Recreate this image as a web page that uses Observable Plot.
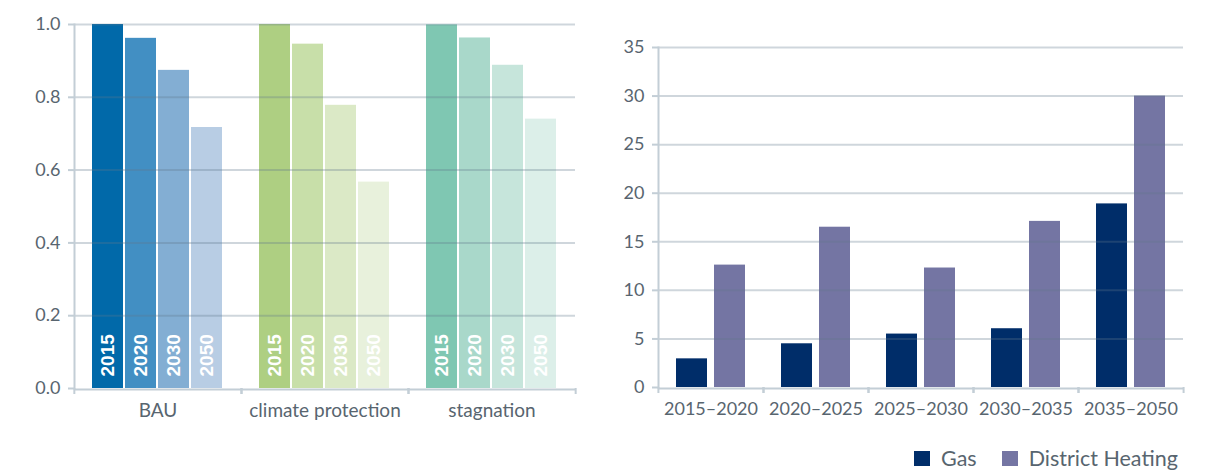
<!DOCTYPE html>
<html><head><meta charset="utf-8">
<script src="https://cdn.jsdelivr.net/npm/d3@7"></script>
<script src="https://cdn.jsdelivr.net/npm/@observablehq/plot@0.6"></script>
<style>
body{margin:0;background:#fff;font-family:Lato,sans-serif;}
#wrap{position:relative;width:1212px;height:471px;overflow:hidden;}
#left{position:absolute;left:0;top:0;}
#right{position:absolute;left:600px;top:0;}
#legend{position:absolute;top:446px;left:914px;display:flex;align-items:center;font-size:21.5px;line-height:24px;color:#58656f;white-space:nowrap;}
.sw{display:inline-block;width:16px;height:15px;margin-right:11px;}
.item{display:flex;align-items:center;}
</style></head><body>
<div id="wrap"><div id="left"></div><div id="right"></div><div id="legend"></div></div>
<script>
// ---------- data: left chart ----------
const scenarios = ["BAU", "climate protection", "stagnation"];
const years = ["2015", "2020", "2030", "2050"];
const bauValues = [1.0, 0.962, 0.874, 0.717];
const climateValues = [1.0, 0.946, 0.778, 0.567];
const stagnationValues = [0.999, 0.963, 0.888, 0.740];
const leftTicks = [0, 0.2, 0.4, 0.6, 0.8, 1.0];

// ---------- data: right chart ----------
const periods = ["2015–2020", "2020–2025", "2025–2030", "2030–2035", "2035–2050"];
const carriers = ["Gas", "District Heating"];
const gasValues = [2.95, 4.5, 5.5, 6.05, 18.9];
const heatingValues = [12.6, 16.5, 12.3, 17.1, 30.0];
const rightTicks = [0, 5, 10, 15, 20, 25, 30, 35];

// ---------- palettes ----------
const bauColors = ["#0169a9", "#428fc3", "#83aed3", "#b8cde4"];
const climateColors = ["#aecf82", "#c8dfa9", "#dbe9c6", "#e8f1dc"];
const stagnationColors = ["#7fc7b2", "#a9d8ca", "#c6e5db", "#dcefe9"];
const carrierColors = ["#002d69", "#7475a3"];

const textColor = "#58656f";
const axisColor = "#c3ced6";
const gridColor = "#5f788c";

// ---------- left chart ----------
const seriesByScenario = [bauValues, climateValues, stagnationValues];
const paletteByScenario = [bauColors, climateColors, stagnationColors];
const leftRows = [];
const colorKeys = [], colorRange = [];
scenarios.forEach((s, i) => years.forEach((y, j) => {
  leftRows.push({scenario: s, year: y, value: seriesByScenario[i][j], key: s + " " + y});
  colorKeys.push(s + " " + y);
  colorRange.push(paletteByScenario[i][j]);
}));

const LW = 600, LML = 73, LMR = 25;
const lfw = (LW - LML - LMR) / scenarios.length;
const left = Plot.plot({
  width: LW, height: 430,
  marginLeft: LML, marginRight: LMR, marginTop: 24, marginBottom: 42,
  style: {fontFamily: "Lato, sans-serif", fontSize: "18px", color: textColor, background: "white"},
  fx: {domain: scenarios, padding: 0, label: null},
  x: {domain: years, paddingInner: 0.06, paddingOuter: 0.5, axis: null},
  y: {domain: [0, 1], axis: null},
  color: {type: "ordinal", domain: colorKeys, range: colorRange},
  marks: [
    Plot.barY(leftRows, {fx: "scenario", x: "year", y: "value", fill: "key"}),
    Plot.ruleY(leftTicks.slice(1), {stroke: gridColor, strokeOpacity: 0.3, strokeWidth: 2}),
    Plot.text(leftRows, {fx: "scenario", x: "year", y: 0, text: "year", rotate: -90, textAnchor: "start",
      dy: -12, fill: "white", fontWeight: "bold", fontSize: 19, fontFamily: "'Liberation Sans', Arial, sans-serif"}),
    Plot.ruleY([0], {stroke: axisColor, strokeWidth: 2, dy: 1}),
    Plot.frame({anchor: "left", facetAnchor: "left", stroke: axisColor, strokeWidth: 2}),
    Plot.axisY({ticks: leftTicks, tickFormat: d3.format(".1f"), tickSize: 6, tickPadding: 8,
      stroke: axisColor, strokeWidth: 2, label: null, fill: textColor, fontSize: 18}),
    Plot.axisFx({anchor: "bottom", tickSize: 0, tickPadding: 15, label: null, fill: textColor, fontSize: 19}),
    Plot.axisFx({anchor: "bottom", tickSize: 6, tickFormat: () => "", dx: -lfw / 2, stroke: axisColor, strokeWidth: 2, label: null}),
    Plot.axisFx({anchor: "bottom", tickSize: 6, tickFormat: () => "", dx: lfw / 2, stroke: axisColor, strokeWidth: 2, label: null})
  ]
});
document.getElementById("left").appendChild(left);

// ---------- right chart ----------
const rightRows = [];
periods.forEach((p, i) => {
  rightRows.push({period: p, carrier: carriers[0], value: gasValues[i]});
  rightRows.push({period: p, carrier: carriers[1], value: heatingValues[i]});
});
const RW = 612, RML = 57, RMR = 29;
const rfw = (RW - RML - RMR) / periods.length;
const right = Plot.plot({
  width: RW, height: 430,
  marginLeft: RML, marginRight: RMR, marginTop: 47, marginBottom: 43,
  style: {fontFamily: "Lato, sans-serif", fontSize: "18px", color: textColor, background: "white"},
  fx: {domain: periods, padding: 0, label: null},
  x: {domain: carriers, paddingInner: 0.184, paddingOuter: 0.47, axis: null},
  y: {domain: [0, 35], axis: null},
  color: {domain: carriers, range: carrierColors},
  marks: [
    Plot.barY(rightRows, {fx: "period", x: "carrier", y: "value", fill: "carrier"}),
    Plot.ruleY(rightTicks.slice(1), {stroke: gridColor, strokeOpacity: 0.3, strokeWidth: 2}),
    Plot.ruleY([0], {stroke: axisColor, strokeWidth: 2, dy: 1}),
    Plot.frame({anchor: "left", facetAnchor: "left", stroke: axisColor, strokeWidth: 2}),
    Plot.axisY({ticks: rightTicks, tickSize: 6, tickPadding: 8,
      stroke: axisColor, strokeWidth: 2, label: null, fill: textColor, fontSize: 18}),
    Plot.axisFx({anchor: "bottom", tickSize: 0, tickPadding: 15, label: null, fill: textColor, fontSize: 18}),
    Plot.axisFx({anchor: "bottom", tickSize: 6, tickFormat: () => "", dx: -rfw / 2, stroke: axisColor, strokeWidth: 2, label: null}),
    Plot.axisFx({anchor: "bottom", tickSize: 6, tickFormat: () => "", dx: rfw / 2, stroke: axisColor, strokeWidth: 2, label: null})
  ]
});
document.getElementById("right").appendChild(right);

// ---------- legend ----------
const legend = document.getElementById("legend");
carriers.forEach((c, i) => {
  const item = document.createElement("span");
  item.className = "item";
  item.style.marginRight = i === 0 ? "25px" : "0";
  const sw = document.createElement("span");
  sw.className = "sw";
  sw.style.background = carrierColors[i];
  item.appendChild(sw);
  item.appendChild(document.createTextNode(c));
  legend.appendChild(item);
});
</script>
</body></html>
